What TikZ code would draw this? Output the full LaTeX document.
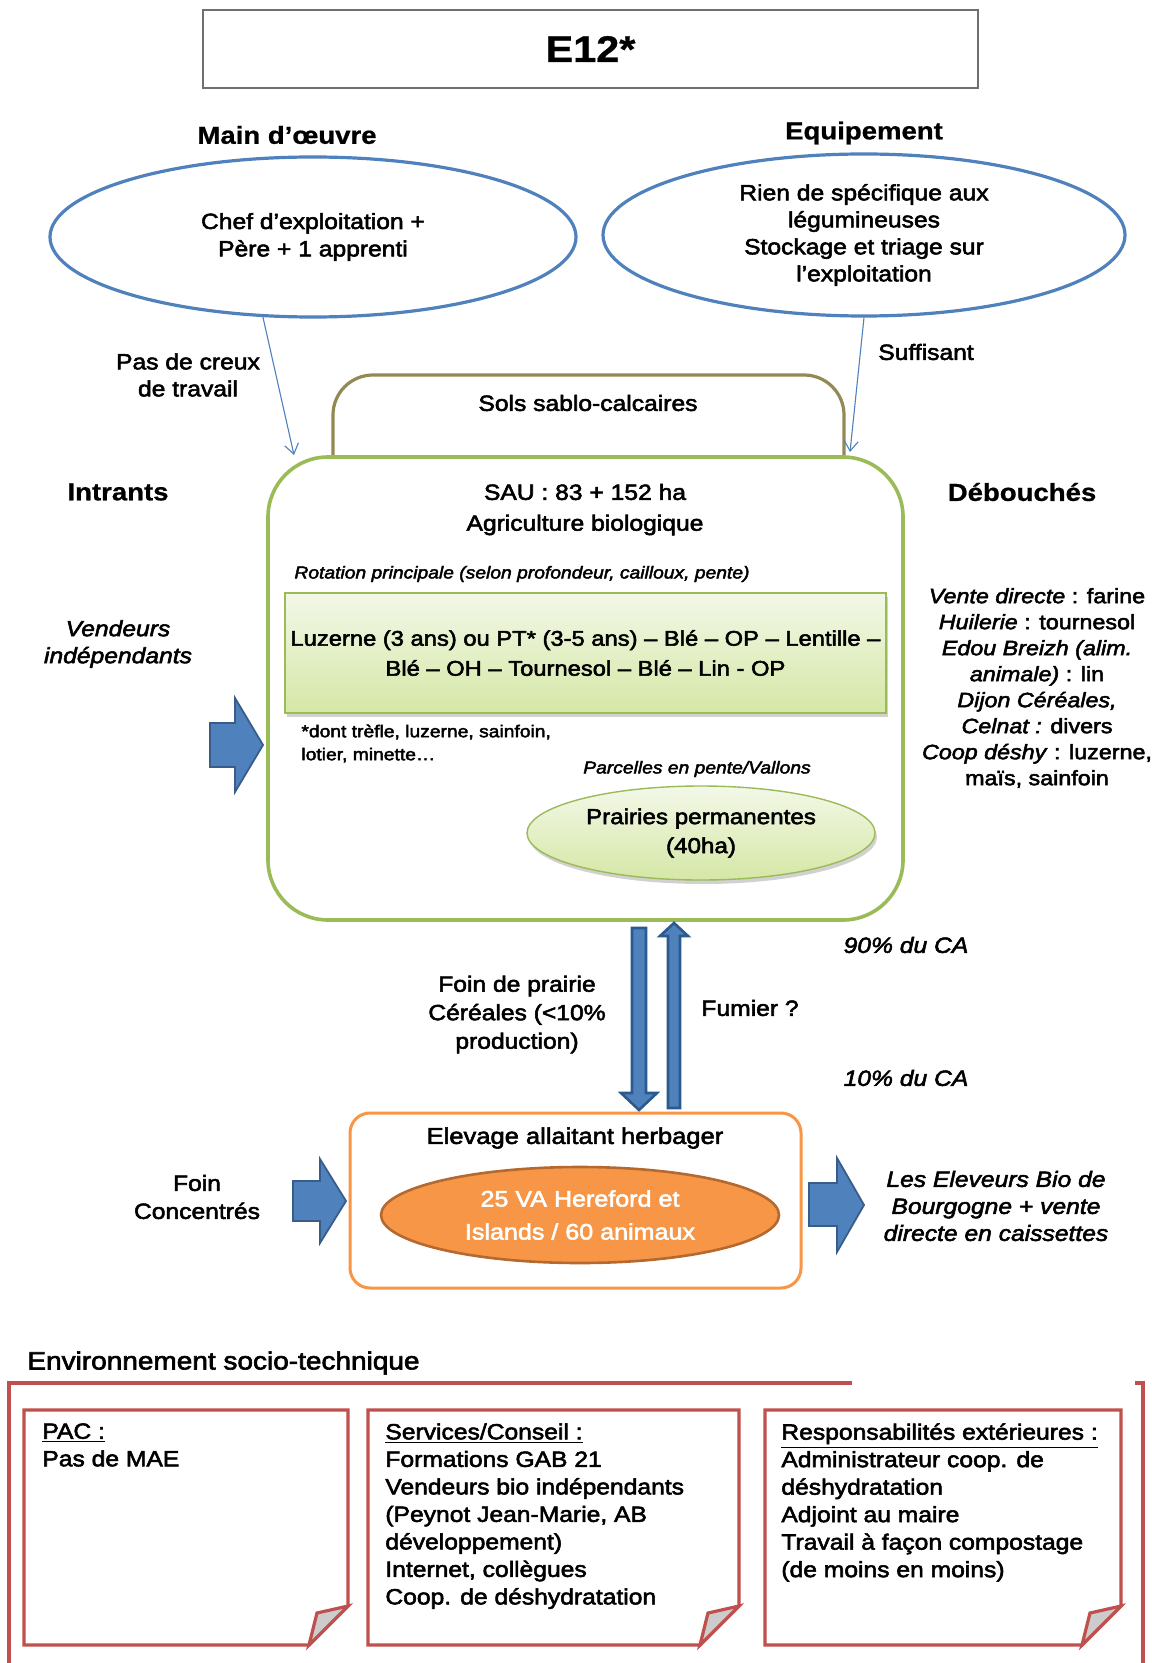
\documentclass[tikz,border=0pt]{standalone}
\usepackage{fontspec}
\setmainfont{Liberation Sans}[FakeStretch=1.12,
  UprightFeatures={FakeBold=2.5}, ItalicFeatures={FakeBold=2.5}, BoldFeatures={FakeBold=0.8}]
\usetikzlibrary{shapes.geometric, arrows.meta, shadows}

\definecolor{ofblue}{HTML}{4F81BD}
\definecolor{arrowedge}{HTML}{385D8A}
\definecolor{vedge}{HTML}{2B5A8E}
\definecolor{olive}{HTML}{938953}
\definecolor{leaf}{HTML}{9BBB59}
\definecolor{leaftop}{HTML}{F3F8E8}
\definecolor{leafbot}{HTML}{D5E7A6}
\definecolor{ofor}{HTML}{F79646}
\definecolor{ofordark}{HTML}{B5692E}
\definecolor{ofred}{HTML}{C0504D}
\definecolor{foldgray}{HTML}{CCCCCC}
\definecolor{framegray}{HTML}{6F6F6F}

\tikzset{
  lbl/.style={inner sep=0pt, align=center, font=\fontsize{11}{13.5}\selectfont},
  lblit/.style={inner sep=0pt, align=center, font=\fontsize{11}{13.5}\selectfont\itshape},
  hd/.style={inner sep=0pt, font=\fontsize{12.3}{15}\selectfont\bfseries},
  small/.style={inner sep=0pt, align=left, font=\fontsize{8.6}{11.5}\selectfont},
  smallit/.style={inner sep=0pt, font=\fontsize{8.6}{11.5}\selectfont\itshape},
  blueell/.style={ellipse, draw=ofblue, line width=1.6pt, inner sep=0pt, align=center,
    font=\fontsize{11}{13.7}\selectfont},
  thinarrow/.style={draw=ofblue, line width=0.55pt, -{Straight Barb[length=5pt,width=7pt]}},
  blockarrow/.style={fill=ofblue, draw=arrowedge, line width=0.9pt, line join=miter},
  vertarrow/.style={fill=ofblue, draw=vedge, line width=1.3pt, line join=miter},
  redline/.style={draw=ofred, line width=1.6pt, line join=miter},
  notetext/.style={inner sep=0pt, align=left, anchor=north west, font=\fontsize{11}{13.75}\selectfont},
  softshadow/.style={drop shadow={shadow xshift=1pt, shadow yshift=-2pt, opacity=0.18, fill=black}},
}

\begin{document}
\begin{tikzpicture}[x=0.5pt, y=-0.5pt]
\useasboundingbox[fill=white] (0,0) rectangle (1151,1663);

% title
\node[draw=framegray, line width=0.8pt, minimum width=387.5pt, minimum height=39pt, inner sep=0pt,
      font=\fontsize{18.5}{22}\selectfont\bfseries] (title) at (590.5,49) {E12*};

% labour and equipment
\node[hd] (mo) at (287,135) {Main d’œuvre};
\node[hd] (eq) at (864,133) {Equipement};
\node[blueell, minimum width=263pt, minimum height=80pt] (lell) at (313,237)
  {Chef d’exploitation +\\Père + 1 apprenti};
\node[blueell, minimum width=261pt, minimum height=81pt, font=\fontsize{11}{13.5}\selectfont] (rell) at (864,235)
  {Rien de spécifique aux\\légumineuses\\Stockage et triage sur\\l’exploitation};

% soils band behind the farm
\draw[olive, line width=1.6pt, rounded corners=20pt] (333,458) -- (333,375) -- (844,375) -- (844,458);
\node[lbl] (sols) at (588,403) {Sols sablo-calcaires};

% farm
\node[draw=leaf, line width=1.8pt, rounded corners=30pt, minimum width=317.5pt, minimum height=231.5pt,
      inner sep=0pt] (farm) at (585.5,688.5) {};

\coordinate (lhit) at (294,455);
\coordinate (rhit) at (850,452);
\draw[thinarrow] (lell.238) -- (lhit);
\draw[thinarrow] (rell.south) -- (rhit);
\node[lbl] (creux) at (188,375) {Pas de creux\\de travail};
\node[lbl] (suff) at (926,352) {Suffisant};

\node[hd] (intr) at (118,492) {Intrants};
\node[hd] (debo) at (1022,492) {Débouchés};

\node[lbl] (sau) at (585,492) {SAU : 83 + 152 ha};
\node[lbl] (ab) at (585,525) {Agriculture biologique};
\node[smallit] (rotlab) at (522,574) {Rotation principale (selon profondeur, cailloux, pente)};

\node[draw=leaf, line width=1.1pt, top color=leaftop, bottom color=leafbot,
      minimum width=300.5pt, minimum height=60pt, inner sep=0pt, align=center,
      font=\fontsize{10.6}{15}\selectfont, softshadow] (rot) at (585.5,653)
  {Luzerne (3 ans) ou PT* (3-5 ans) – Blé – OP – Lentille –\\Blé – OH – Tournesol – Blé – Lin - OP};

\node[small, anchor=west] (pt) at (301,743.5) {*dont trèfle, luzerne, sainfoin,\\lotier, minette…};
\node[smallit] (parc) at (697,769) {Parcelles en pente/Vallons};

\node[ellipse, draw=leaf, line width=0.7pt, top color=leaftop, bottom color=leafbot,
      minimum width=174pt, minimum height=47pt, inner sep=0pt, align=center,
      font=\fontsize{10.8}{14.5}\selectfont, softshadow] (pp) at (701,833)
  {Prairies permanentes\\(40ha)};

% inputs
\draw[blockarrow] (210,723) -- (235,723) -- (235,698) -- (263,745) -- (235,792) -- (235,767) -- (210,767) -- cycle;
\node[lblit] (vend) at (118,644) {Vendeurs\\indépendants};

% outlets
\node[inner sep=0pt, align=center, font=\fontsize{10.4}{13}\selectfont] (deb) at (1037,688)
  {\textit{Vente directe} : farine\\
   \textit{Huilerie} : tournesol\\
   \textit{Edou Breizh (alim.}\\
   \textit{animale)} : lin\\
   \textit{Dijon Céréales,}\\
   \textit{Celnat :} divers\\
   \textit{Coop déshy} : luzerne,\\
   maïs, sainfoin};

% exchanges between crops and herd
\draw[vertarrow] (632,928) -- (646,928) -- (646,1093) -- (657,1093) -- (639,1110) -- (621,1093) -- (632,1093) -- cycle;
\draw[vertarrow] (668,1108) -- (668,936) -- (660,936) -- (674,923) -- (688,936) -- (680,936) -- (680,1108) -- cycle;
\node[lblit] (ca90) at (906,945) {90\% du CA};
\node[lblit] (ca10) at (906,1078) {10\% du CA};
\node[inner sep=0pt, align=center, font=\fontsize{11}{14.25}\selectfont] (foin) at (517,1014.5)
  {Foin de prairie\\Céréales (<10\%\\production)};
\node[lbl] (fum) at (750,1008) {Fumier ?};

% herd
\node[draw=ofor, line width=1.5pt, rounded corners=10pt, minimum width=225.5pt, minimum height=87.5pt,
      inner sep=0pt] (herd) at (575.5,1200.5) {};
\node[lbl, font=\fontsize{11.4}{14}\selectfont] (elev) at (575,1138) {Elevage allaitant herbager};
\node[ellipse, fill=ofor, draw=ofordark, line width=1.3pt, minimum width=199pt, minimum height=48pt,
      inner sep=0pt, align=center, text=white, font=\fontsize{11.2}{16.5}\selectfont] (cattle) at (580,1215)
  {25 VA Hereford et\\Islands / 60 animaux};

\draw[blockarrow] (293,1181) -- (320,1181) -- (320,1159) -- (346,1201) -- (320,1243) -- (320,1221) -- (293,1221) -- cycle;
\draw[blockarrow] (809,1183) -- (837,1183) -- (837,1158) -- (864,1205) -- (837,1252) -- (837,1226) -- (809,1226) -- cycle;
\node[inner sep=0pt, align=center, font=\fontsize{11}{14}\selectfont] (fc) at (197,1197) {Foin\\Concentrés};
\node[lblit] (ebb) at (996,1206) {Les Eleveurs Bio de\\Bourgogne + vente\\directe en caissettes};

% socio-technical environment
\node[inner sep=0pt, anchor=west, font=\fontsize{12.5}{15}\selectfont] (env) at (27,1363) {Environnement socio-technique};
\draw[redline] (9,1670) -- (9,1383) -- (852,1383);
\draw[redline] (1135,1383) -- (1143,1383) -- (1143,1670);

% note sheets
\foreach \xa/\xb in {24/348, 368/739, 765/1121}{
  \draw[redline, fill=white] (\xa,1410) -- (\xb,1410) -- (\xb,1606) -- (\xb-39,1645) -- (\xa,1645) -- cycle;
  \draw[redline, fill=foldgray] (\xb-39,1645) -- (\xb-31,1613) -- (\xb,1606) -- cycle;
}
\node[notetext] (pac) at (42,1423)
  {\underline{PAC :}\\Pas de MAE};
\node[notetext] (serv) at (385,1423)
  {\underline{Services/Conseil :}\\Formations GAB 21\\Vendeurs bio indépendants\\(Peynot Jean-Marie, AB\\développement)\\Internet, collègues\\Coop. de déshydratation};
\node[notetext] (resp) at (781,1423)
  {\underline{Responsabilités extérieures :}\\Administrateur coop. de\\déshydratation\\Adjoint au maire\\Travail à façon compostage\\(de moins en moins)};
\end{tikzpicture}
\end{document}
